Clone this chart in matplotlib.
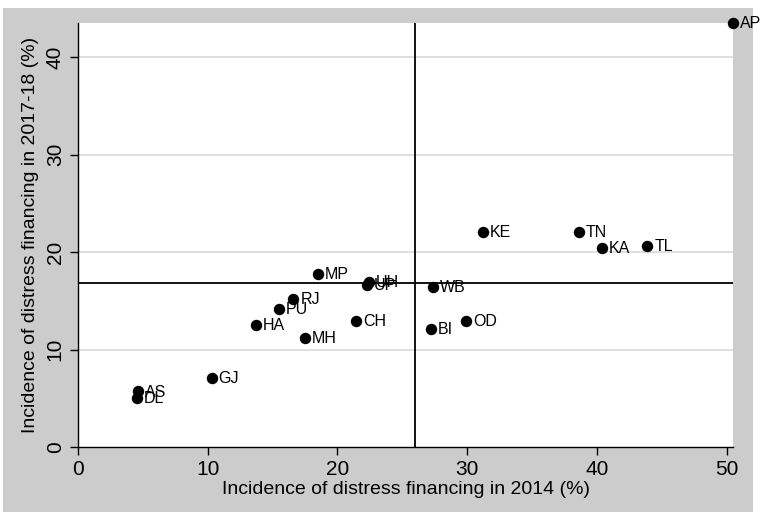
import matplotlib
matplotlib.use('Agg')
import matplotlib.pyplot as plt
from matplotlib.patches import Rectangle

# State codes and incidence of distress financing (%)
states = ['AP', 'KE', 'TN', 'KA', 'TL', 'WB', 'OD', 'BI', 'MP', 'UH', 'UP',
          'RJ', 'PU', 'HA', 'CH', 'MH', 'GJ', 'AS', 'DL']
inc_2014 = [50.5, 31.2, 38.6, 40.4, 43.9, 27.4, 29.9, 27.2, 18.5, 22.45, 22.3,
            16.6, 15.5, 13.7, 21.45, 17.5, 10.3, 4.6, 4.55]
inc_2018 = [43.5, 22.05, 22.05, 20.4, 20.6, 16.4, 12.9, 12.1, 17.8, 16.9, 16.6,
            15.2, 14.15, 12.5, 12.9, 11.2, 7.1, 5.7, 5.0]
mean_2014 = 26.0
mean_2018 = 16.8

plt.rcParams['font.family'] = ['Liberation Sans', 'DejaVu Sans']

fig = plt.figure(figsize=(7.62, 5.12), dpi=100)
fig.patch.set_facecolor('white')
# grey graph region (Stata style)
bg = fig.add_axes([0, 0, 1, 1], zorder=-1)
bg.axis('off')
bg.set_xlim(0, 762)
bg.set_ylim(0, 512)
bg.add_patch(Rectangle((3, 0), 750, 504, facecolor='#cccccc', edgecolor='none'))

ax = fig.add_axes([78/762, 65/512, 655/762, 424/512], zorder=1)
ax.set_facecolor('white')
ax.set_xlim(0, max(inc_2014))
ax.set_ylim(0, max(inc_2018))

for y in [10, 20, 30, 40]:
    ax.axhline(y, color='#d9d9d9', lw=1.2, zorder=1)
ax.axhline(mean_2018, color='black', lw=1.3, zorder=2)
ax.axvline(mean_2014, color='black', lw=1.3, zorder=2)

ax.scatter(inc_2014, inc_2018, s=52, color='black', zorder=3, clip_on=False)
for name, x, y in zip(states, inc_2014, inc_2018):
    ax.annotate(name, (x, y), xytext=(5, -0.5), textcoords='offset points',
                va='center', ha='left', fontsize=11.5, annotation_clip=False)

for s in ['top', 'right']:
    ax.spines[s].set_visible(False)
ax.spines['left'].set_linewidth(1.0)
ax.spines['bottom'].set_linewidth(1.0)

ax.set_xticks([0, 10, 20, 30, 40, 50])
ax.set_yticks([0, 10, 20, 30, 40])
ax.tick_params(direction='out', length=6, width=1, labelsize=15)
plt.setp(ax.get_yticklabels(), rotation=90, va='center')
ax.set_xlabel('Incidence of distress financing in 2014 (%)', fontsize=14, labelpad=1)
ax.set_ylabel('Incidence of distress financing in 2017-18 (%)', fontsize=14, labelpad=5)

fig.savefig('out.png', dpi=100)
